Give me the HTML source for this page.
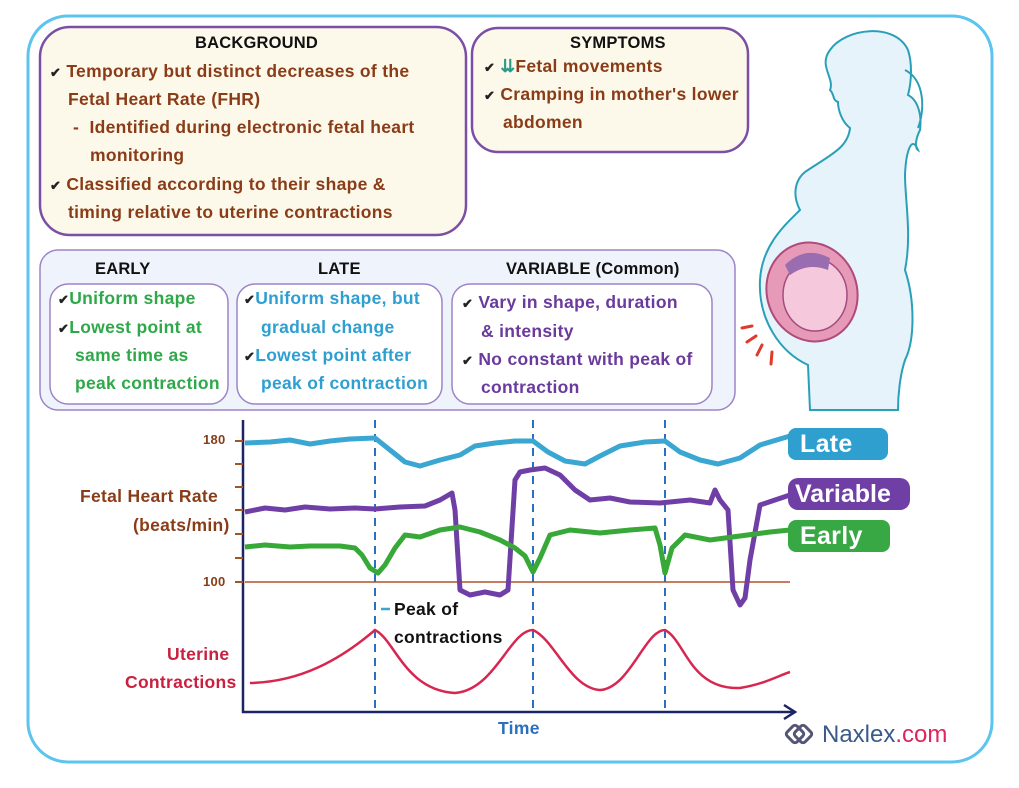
<!DOCTYPE html>
<html><head><meta charset="utf-8"><style>
body{margin:0;width:1019px;height:788px;background:#fff;position:relative;overflow:hidden;font-family:"Liberation Sans",sans-serif;font-weight:bold}
.t{position:absolute;font-size:17.5px;letter-spacing:0.3px;line-height:28px;white-space:nowrap}
.h{font-size:16.5px;letter-spacing:0.2px}
.br{color:#8a3c18}.gr{color:#2fa84a}.bl{color:#2e9fd0}.pu{color:#6a3a9c}.bk{color:#111}
.ck{color:#222;font-size:13px}
</style></head><body>
<svg width="1019" height="788" style="position:absolute;left:0;top:0">
<rect x="28" y="16" width="964" height="746" rx="40" fill="#fff" stroke="#5cc4ee" stroke-width="3"/>
<rect x="40" y="27" width="426" height="208" rx="30" fill="#fdf9ea" stroke="#7b4fa6" stroke-width="2.5"/>
<rect x="472" y="28" width="276" height="124" rx="26" fill="#fdf9ea" stroke="#7b4fa6" stroke-width="2.5"/>
<rect x="40" y="250" width="695" height="160" rx="18" fill="#eef3fc" stroke="#9d84c6" stroke-width="1.5"/>
<rect x="50" y="284" width="178" height="120" rx="18" fill="#fff" stroke="#9d84c6" stroke-width="1.5"/>
<rect x="237" y="284" width="205" height="120" rx="18" fill="#fff" stroke="#9d84c6" stroke-width="1.5"/>
<rect x="452" y="284" width="260" height="120" rx="18" fill="#fff" stroke="#9d84c6" stroke-width="1.5"/>
<!-- woman -->
<path d="M810,410 L808,365 C780,352 758,320 760,280 C762,245 785,225 800,210 C792,195 795,180 805,172 C830,155 848,148 850,128 C842,122 838,110 838,102 C832,100 835,95 830,90 C835,78 818,66 830,50 C845,28 895,22 908,50 C912,62 912,80 908,95 C918,100 922,115 920,130 C915,140 915,148 918,150 C912,135 906,150 905,175 C905,200 912,235 905,270 C915,300 915,340 905,360 C900,375 898,395 898,410 Z" fill="#e6f3fb" stroke="#2aa0b8" stroke-width="2"/>
<path d="M905,70 C925,80 925,110 918,128" fill="none" stroke="#2aa0b8" stroke-width="2"/>
<ellipse cx="812" cy="292" rx="45" ry="50" fill="#e79ab8" stroke="#b04a7a" stroke-width="2" transform="rotate(-20 812 292)"/>
<ellipse cx="815" cy="295" rx="32" ry="36" fill="#f6c8dc" stroke="#a24c80" stroke-width="1.5"/>
<path d="M785,265 Q805,245 830,258 L828,270 Q808,262 790,275Z" fill="#9a6db0"/>
<g stroke="#e03a2a" stroke-width="3" stroke-linecap="round"><line x1="742" y1="328" x2="752" y2="326"/><line x1="747" y1="342" x2="756" y2="336"/><line x1="757" y1="355" x2="762" y2="345"/><line x1="771" y1="364" x2="772" y2="352"/></g>
<!-- chart -->
<line x1="243" y1="420" x2="243" y2="713" stroke="#1d2466" stroke-width="2.5"/>
<line x1="242" y1="712" x2="793" y2="712" stroke="#1d2466" stroke-width="2.5"/>
<path d="M784,705 L795,712 L784,719" fill="none" stroke="#1d2466" stroke-width="2.5"/>
<g stroke="#a0542a" stroke-width="2"><line x1="235" y1="441" x2="243" y2="441"/><line x1="235" y1="464" x2="243" y2="464"/><line x1="235" y1="487" x2="243" y2="487"/><line x1="235" y1="510" x2="243" y2="510"/><line x1="235" y1="534" x2="243" y2="534"/><line x1="235" y1="558" x2="243" y2="558"/><line x1="235" y1="582" x2="243" y2="582"/></g>
<line x1="245" y1="582" x2="790" y2="582" stroke="#b0532a" stroke-width="1.5"/>
<g stroke="#2a6fc0" stroke-width="2" stroke-dasharray="8,6"><line x1="375" y1="420" x2="375" y2="708"/><line x1="533" y1="420" x2="533" y2="708"/><line x1="665" y1="420" x2="665" y2="708"/></g>
<path d="M245,443 L270,442 L290,440 L310,444 L330,441 L350,439 L375,438 L390,450 L405,462 L420,466 L440,460 L460,455 L475,446 L495,443 L515,441 L533,441 L548,452 L565,461 L585,464 L600,456 L620,446 L645,442 L665,441 L680,452 L700,460 L718,464 L740,458 L760,445 L790,436" fill="none" stroke="#3aa6d2" stroke-width="5" stroke-linejoin="round"/>
<path d="M245,512 L265,508 L285,510 L305,507 L330,509 L355,508 L375,509 L400,507 L425,506 L440,500 L452,493 L455,510 L460,590 L470,595 L485,592 L500,595 L508,590 L515,480 L520,472 L530,470 L545,468 L560,475 L575,490 L590,500 L610,498 L630,502 L660,503 L690,500 L710,503 L715,490 L720,500 L728,510 L733,590 L740,605 L745,598 L750,560 L760,505 L775,500 L790,495" fill="none" stroke="#6f3fa6" stroke-width="5" stroke-linejoin="round"/>
<path d="M245,547 L265,545 L290,547 L310,546 L340,546 L355,548 L362,555 L370,568 L378,573 L385,565 L395,548 L405,535 L420,537 L440,530 L460,527 L480,532 L500,540 L515,548 L525,556 L533,572 L540,558 L550,535 L570,530 L600,533 L630,530 L655,528 L660,545 L665,573 L672,548 L685,535 L710,540 L740,536 L770,532 L790,530" fill="none" stroke="#38a838" stroke-width="5" stroke-linejoin="round"/>
<path d="M250,683 C300,682 340,660 375,630 C395,640 405,690 455,693 C495,690 510,630 533,630 C555,640 570,688 600,690 C630,688 645,630 665,630 C685,640 690,690 740,688 C765,684 780,675 790,672" fill="none" stroke="#d7264f" stroke-width="2.5"/>
<line x1="381" y1="609" x2="390" y2="609" stroke="#3aa6d2" stroke-width="2.5"/>
<rect x="788" y="428" width="100" height="32" rx="8" fill="#2f9fd0"/>
<rect x="788" y="478" width="122" height="32" rx="10" fill="#6f3fa6"/>
<rect x="788" y="520" width="102" height="32" rx="8" fill="#38a845"/>
<g fill="none" stroke="#557" stroke-width="3"><rect x="788" y="727" width="14" height="14" rx="3" transform="rotate(45 795 734)"/><rect x="796" y="727" width="14" height="14" rx="3" transform="rotate(45 803 734)"/></g>
</svg>
<div class="t bk h" style="left:195px;top:29px">BACKGROUND</div>
<div class="t br" style="left:50px;top:57px"><span class="ck">&#x2714;</span> Temporary but distinct decreases of the</div>
<div class="t br" style="left:68px;top:85px">Fetal Heart Rate (FHR)</div>
<div class="t br" style="left:73px;top:113px">- &nbsp;Identified during electronic fetal heart</div>
<div class="t br" style="left:90px;top:141px">monitoring</div>
<div class="t br" style="left:50px;top:170px"><span class="ck">&#x2714;</span> Classified according to their shape &amp;</div>
<div class="t br" style="left:68px;top:198px">timing relative to uterine contractions</div>
<div class="t bk h" style="left:570px;top:29px">SYMPTOMS</div>
<div class="t br" style="left:484px;top:52px"><span class="ck">&#x2714;</span> <span style="color:#2a9a8a">&#x21CA;</span>Fetal movements</div>
<div class="t br" style="left:484px;top:80px"><span class="ck">&#x2714;</span> Cramping in mother's lower</div>
<div class="t br" style="left:503px;top:108px">abdomen</div>
<div class="t bk h" style="left:95px;top:255px">EARLY</div>
<div class="t bk h" style="left:318px;top:255px">LATE</div>
<div class="t bk h" style="left:506px;top:255px">VARIABLE (Common)</div>
<div class="t gr" style="left:58px;top:284px"><span class="ck">&#x2714;</span>Uniform shape</div>
<div class="t gr" style="left:58px;top:313px"><span class="ck">&#x2714;</span>Lowest point at</div>
<div class="t gr" style="left:75px;top:341px">same time as</div>
<div class="t gr" style="left:75px;top:369px">peak contraction</div>
<div class="t bl" style="left:244px;top:284px"><span class="ck">&#x2714;</span>Uniform shape, but</div>
<div class="t bl" style="left:261px;top:313px">gradual change</div>
<div class="t bl" style="left:244px;top:341px"><span class="ck">&#x2714;</span>Lowest point after</div>
<div class="t bl" style="left:261px;top:369px">peak of contraction</div>
<div class="t pu" style="left:462px;top:288px"><span class="ck">&#x2714;</span> Vary in shape, duration</div>
<div class="t pu" style="left:481px;top:317px">&amp; intensity</div>
<div class="t pu" style="left:462px;top:345px"><span class="ck">&#x2714;</span> No constant with peak of</div>
<div class="t pu" style="left:481px;top:373px">contraction</div>
<div class="t br" style="left:203px;top:426px;font-size:13px">180</div>
<div class="t br" style="left:203px;top:568px;font-size:13px">100</div>
<div class="t br" style="left:80px;top:482px">Fetal Heart Rate</div>
<div class="t br" style="left:133px;top:511px">(beats/min)</div>
<div class="t" style="left:167px;top:640px;color:#c8203f">Uterine</div>
<div class="t" style="left:125px;top:668px;color:#c8203f">Contractions</div>
<div class="t bk" style="left:394px;top:595px">Peak of</div>
<div class="t bk" style="left:394px;top:623px">contractions</div>
<div class="t" style="left:498px;top:714px;color:#2a6fc0">Time</div>
<div class="t" style="left:800px;top:428px;color:#fff;font-size:25px;line-height:32px">Late</div>
<div class="t" style="left:795px;top:478px;color:#fff;font-size:25px;line-height:32px;letter-spacing:0">Variable</div>
<div class="t" style="left:800px;top:520px;color:#fff;font-size:25px;line-height:32px">Early</div>
<div class="t" style="left:822px;top:720px;font-size:24px;line-height:30px;font-weight:normal;letter-spacing:0"><span style="color:#3a5a8a">Naxlex</span><span style="color:#e0245e">.com</span></div>
</body></html>
